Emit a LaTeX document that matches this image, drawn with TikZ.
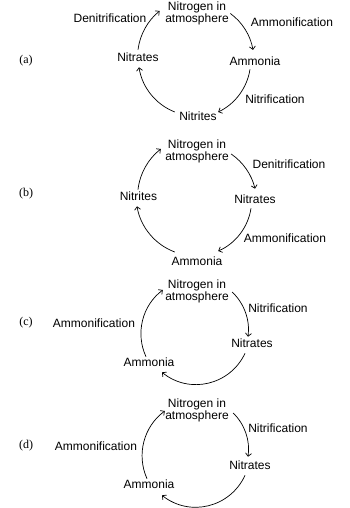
\documentclass[tikz,border=0pt]{standalone}
\usepackage{fontspec}
\setmainfont{Liberation Sans}
\newfontfamily\labelserif{Liberation Serif}
\usetikzlibrary{arrows.meta}
\tikzset{
  txt/.style={inner sep=0pt, font=\fontsize{12}{12}\selectfont, text=black},
  twoline/.style={txt, align=center},
  tag/.style={inner sep=0pt, font=\labelserif\fontsize{12}{12}\selectfont, text=black},
  cyc/.style={line width=0.7pt, draw=black, -{Straight Barb[length=3pt,width=6pt]}},
}
\begin{document}
\begin{tikzpicture}[x=1pt,y=-1pt]
\useasboundingbox (0,0) rectangle (350,508);

% ---------- (a)
\node[tag] (ta) at (26,61) {(a)};
\node[twoline] (Na) at (197,13.5) {Nitrogen in\\atmosphere};
\node[txt] (Aa) at (255,61) {Ammonia};
\node[txt] (Ia) at (198,116) {Nitrites};
\node[txt] (Ta) at (138,57) {Nitrates};
\node[txt] (da) at (110,18) {Denitrification};
\node[txt] (ma) at (292,22) {Ammonification};
\node[txt] (na) at (275,99) {Nitrification};
\draw[cyc] ([shift={(1.5,0)}]Na.east) to[bend left=22, looseness=0.88] ([shift={(-2,-6.5)}]Aa.north);
\draw[cyc] ([shift={(-5,3.7)}]Aa.south) to[bend left=28, looseness=0.9] ([shift={(1.3,-4)}]Ia.east);
\draw[cyc] ([shift={(-4.3,-4)}]Ia.west) to[bend left=30, looseness=0.91] ([shift={(1,5.7)}]Ta.south);
\draw[cyc] ([shift={(0,-2.7)}]Ta.north) to[bend left=22, looseness=0.88] ([shift={(-5.5,-2.5)}]Na.west);

% ---------- (b)
\node[tag] (tb) at (26,194) {(b)};
\node[twoline] (Nb) at (197,151.5) {Nitrogen in\\atmosphere};
\node[txt] (Tb) at (255,199) {Nitrates};
\node[txt] (Ab) at (197,261) {Ammonia};
\node[txt] (Ib) at (138.5,196) {Nitrites};
\node[txt] (db) at (289,164) {Denitrification};
\node[txt] (mb) at (285,238) {Ammonification};
\draw[cyc] ([shift={(2.3,2.5)}]Nb.east) to[bend left=21, looseness=0.88] ([shift={(0,-5.7)}]Tb.north);
\draw[cyc] ([shift={(-4,4.7)}]Tb.south) to[bend left=29, looseness=0.9] ([shift={(-4.3,-10)}]Ab.east);
\draw[cyc] ([shift={(3.3,-9)}]Ab.west) to[bend left=30, looseness=0.91] ([shift={(-1.5,5.7)}]Ib.south);
\draw[cyc] ([shift={(-0.5,-1.7)}]Ib.north) to[bend left=23, looseness=0.88] ([shift={(-4.3,-2.5)}]Nb.west);

% ---------- (c)
\node[tag] (tc) at (26,323) {(c)};
\node[twoline] (Nc) at (197,291) {Nitrogen in\\atmosphere};
\node[txt] (Tc) at (252,343) {Nitrates};
\node[txt] (Ac) at (149,362) {Ammonia};
\node[txt] (nc) at (278,308) {Nitrification};
\node[txt] (mc) at (94,323) {Ammonification};
\draw[cyc] ([shift={(3.3,1)}]Nc.east) to[bend left=27, looseness=0.9] ([shift={(-4,-1.7)}]Tc.north);
\draw[cyc] ([shift={(-7,5.7)}]Tc.south) to[bend left=52, looseness=1.06] ([shift={(13,5.7)}]Ac.south);
\draw[cyc] ([shift={(-3,-0.7)}]Ac.north) to[bend left=39, looseness=0.96] ([shift={(-2.3,-1)}]Nc.west);

% ---------- (d)
\node[tag] (td) at (26,446) {(d)};
\node[twoline] (Nd) at (197,410) {Nitrogen in\\atmosphere};
\node[txt] (Td) at (250,465) {Nitrates};
\node[txt] (Ad) at (149,484) {Ammonia};
\node[txt] (nd) at (278,428) {Nitrification};
\node[txt] (md) at (96,446) {Ammonification};
\draw[cyc] ([shift={(4.3,3)}]Nd.east) to[bend left=27, looseness=0.9] ([shift={(-2,-3.7)}]Td.north);
\draw[cyc] ([shift={(-5,5.7)}]Td.south) to[bend left=52, looseness=1.06] ([shift={(13,6.7)}]Ad.south);
\draw[cyc] ([shift={(-2,-0.7)}]Ad.north) to[bend left=39, looseness=0.96] ([shift={(-0.3,1)}]Nd.west);
\end{tikzpicture}
\end{document}
